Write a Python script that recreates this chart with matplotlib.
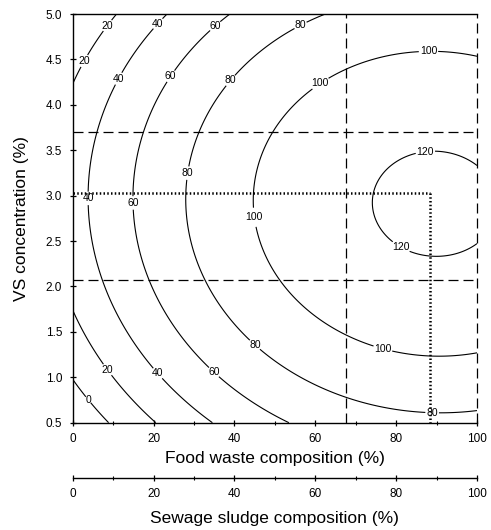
import numpy as np
import matplotlib
matplotlib.use("Agg")
import matplotlib.pyplot as plt
from matplotlib.ticker import MultipleLocator

plt.rcParams['font.family'] = ['Liberation Sans', 'DejaVu Sans']

# ---- data: points on each contour (x = food waste %, y = VS %) ----
pt_level = [0, 0,
            20, 20, 20, 20,
            40, 40, 40, 40, 40,
            60, 60, 60, 60, 60,
            80, 80, 80, 80, 80, 80,
            100, 100, 100, 100, 100, 100, 100,
            120, 120, 120, 120, 120]
pt_x = [0, 8.8,
        0, 20.4, 0, 10.9,
        3.9, 7.2, 34.4, 23.3, 5.9,
        15.0, 19.1, 52.9, 39.7, 17.5,
        27.8, 33.5, 62.0, 100, 31.1, 67.5,
        44.7, 50.9, 100, 100, 67.5, 49.6, 67.5,
        74.0, 87.6, 88.3, 100, 100]
pt_y = [0.99, 0.5,
        1.75, 0.5, 4.26, 5.0,
        3.03, 2.07, 0.5, 5.0, 3.7,
        3.03, 2.07, 0.5, 5.0, 3.7,
        3.03, 2.07, 5.0, 0.636, 3.7, 0.79,
        3.03, 2.07, 4.53, 1.285, 4.40, 3.7, 1.46,
        3.03, 3.49, 2.33, 3.35, 2.44]

levels = [0, 20, 40, 60, 80, 100, 120]
x_ticks = [0, 20, 40, 60, 80, 100]
y_ticks = [0.5, 1.0, 1.5, 2.0, 2.5, 3.0, 3.5, 4.0, 4.5, 5.0]

# reference lines
dash_h = [2.07, 3.7]
dash_v = [67.5, 100]
opt_x = 88.3
opt_y = 3.03

# label anchor positions (layout)
label_pos = [(8.7, 4.87), (3.0, 4.48), (21.2, 4.89), (11.3, 4.29), (35.2, 4.87),
             (24.1, 4.32), (39, 4.27), (28.2, 3.25), (3.8, 2.97), (15, 2.92),
             (56.3, 4.88), (61.2, 4.24), (88, 4.58), (87.2, 3.49), (81, 2.42),
             (44.7, 2.76), (8.5, 1.08), (3.8, 0.75), (21.2, 1.05), (34.8, 1.05),
             (45.1, 1.36), (76.8, 1.33), (88.9, 0.61)]

# ---- quadratic response surface fitted to the read contour points ----
px = np.array(pt_x, float); py = np.array(pt_y, float); pz = np.array(pt_level, float)
A = np.column_stack([np.ones_like(px), px, py, px**2, py**2, px*py])
coef, *_ = np.linalg.lstsq(A, pz, rcond=None)
gx, gy = np.meshgrid(np.linspace(0, 100, 301), np.linspace(0.5, 5.0, 301))
GZ = (coef[0] + coef[1]*gx + coef[2]*gy + coef[3]*gx**2 + coef[4]*gy**2 + coef[5]*gx*gy)

fig = plt.figure(figsize=(4.91, 5.30), dpi=100)
ax = fig.add_axes([0.148, 0.2025, 0.8235, 0.771])

cs = ax.contour(gx, gy, GZ, levels=levels, colors='black', linewidths=0.8)
txts = ax.clabel(cs, levels, inline=True, fmt='%d', fontsize=7.5, manual=label_pos, inline_spacing=1)
for t in txts:
    t.set_rotation(0)

for yv in dash_h:
    ax.axhline(yv, color='black', lw=0.9, ls=(0, (8, 4)))
for xv in dash_v:
    ax.axvline(xv, color='black', lw=0.9, ls=(0, (8, 4)), clip_on=False)
ax.plot([0, opt_x], [opt_y, opt_y], color='black', lw=1.8, ls=(0, (0.6, 0.9)))
ax.plot([opt_x, opt_x], [opt_y, 0.5], color='black', lw=1.8, ls=(0, (0.6, 0.9)))

ax.set_xlim(0, 100)
ax.set_ylim(0.5, 5.0)
ax.spines['right'].set_visible(False)
for s in ['left', 'bottom', 'top']:
    ax.spines[s].set_linewidth(1.0)
ax.set_xticks(x_ticks)
ax.xaxis.set_minor_locator(MultipleLocator(10))
ax.set_yticks(y_ticks)
ax.set_yticklabels([f'{v:.1f}' for v in y_ticks])
ax.tick_params(axis='both', which='major', direction='inout', length=5, width=0.9, labelsize=8.5)
ax.tick_params(axis='x', which='major', pad=5)
ax.tick_params(axis='y', which='major', pad=5)
ax.tick_params(axis='x', which='minor', direction='inout', length=3, width=0.8)
ax.set_xlabel('Food waste composition (%)', fontsize=12.5, labelpad=4)
ax.set_ylabel('VS concentration (%)', fontsize=12.5, labelpad=12)

sec = ax.secondary_xaxis(-0.135)
sec.set_xticks(x_ticks)
sec.xaxis.set_minor_locator(MultipleLocator(10))
sec.tick_params(axis='x', which='major', direction='inout', length=5, width=0.9, labelsize=8.5, pad=5)
sec.tick_params(axis='x', which='minor', direction='inout', length=3, width=0.8)
sec.spines['bottom'].set_linewidth(1.0)
sec.set_xlabel('Sewage sludge composition (%)', fontsize=12.5, labelpad=8)

fig.savefig('out.png', dpi=100)
